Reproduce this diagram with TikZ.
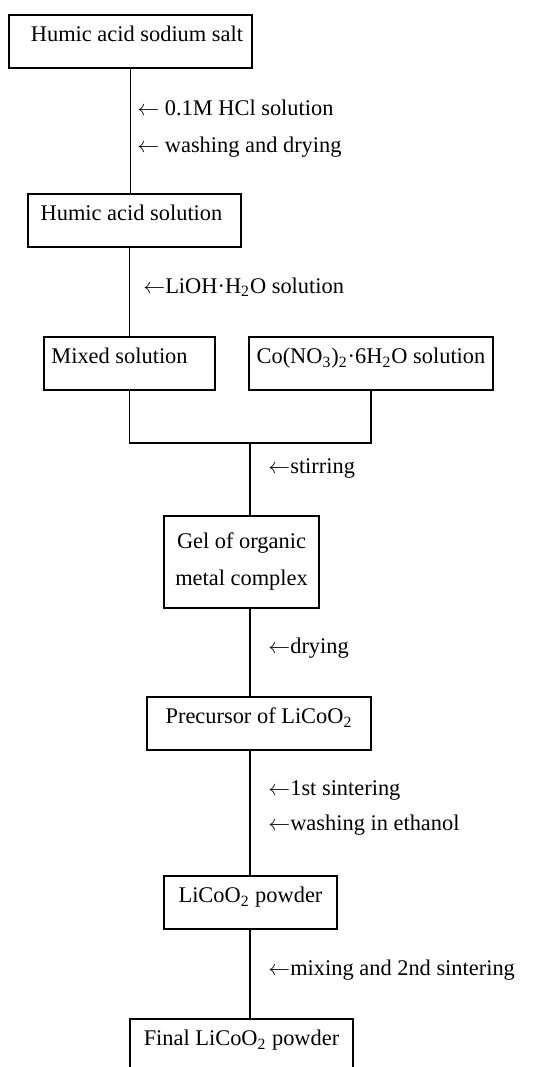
\documentclass[tikz,border=0pt]{standalone}
\usepackage{fontspec}
\setmainfont{Liberation Serif}
\tikzset{
  box/.style={draw, line width=0.8pt, inner xsep=0pt, inner ysep=0pt,
    text height=13.5pt, text depth=13pt, anchor=north},
  tallbox/.style={draw, line width=0.8pt, inner sep=0pt, align=center,
    minimum height=46pt, anchor=north, font=\fontsize{11.2}{18.5}\selectfont},
  note/.style={anchor=base west, inner sep=0pt},
  flow/.style={line width=0.8pt}
}
\begin{document}
\begin{tikzpicture}[x=0.5pt, y=-0.5pt, font=\fontsize{11.2}{13.4}\selectfont]
  \useasboundingbox (0,0) rectangle (546,1067);
  % boxes
  \node[box, minimum width=121.5pt] (salt) at (130.5,14) {\hspace*{6.5pt}Humic acid sodium salt};
  \node[box, minimum width=106.5pt] (acid) at (134.5,193) {Humic acid solution\hspace*{3pt}};
  \node[box, minimum width=85.5pt] (mixed) at (129.5,336) {Mixed solution\hspace*{10pt}};
  \node[box, minimum width=122pt] (cobalt) at (371,336) {Co(NO\textsubscript{3})\textsubscript{2}·6H\textsubscript{2}O solution};
  \node[tallbox, minimum width=77.5pt] (gel) at (241.5,515) {Gel of organic\\metal complex};
  \node[box, minimum width=112pt] (precursor) at (259,696) {Precursor of LiCoO\textsubscript{2}};
  \node[box, minimum width=86.5pt] (powder) at (250.5,875) {LiCoO\textsubscript{2} powder};
  \node[box, minimum width=111.5pt] (final) at (241.5,1018) {Final LiCoO\textsubscript{2} powder};
  \coordinate (join) at (250,443);
  % connectors
  \draw[flow] (salt.south) -- (salt.south |- acid.north);
  \draw[flow] (mixed.north) -- (mixed.north |- acid.south);
  \draw[flow] (mixed.south) |- (join) -| (cobalt.south);
  \draw[flow] (join) -- (join |- gel.north);
  \draw[flow] (join |- gel.south) -- (join |- precursor.north);
  \draw[flow] (join |- precursor.south) -- (join |- powder.north);
  \draw[flow] (join |- powder.south) -- (join |- final.north);
  % process notes
  \node[note] (hcl) at (137,115) {$\leftarrow$ 0.1M HCl solution};
  \node[note] (wash) at (137,152) {$\leftarrow$ washing and drying};
  \node[note] (lioh) at (143,293) {$\leftarrow$LiOH·H\textsubscript{2}O solution};
  \node[note] (stir) at (268,473) {$\leftarrow$stirring};
  \node[note] (dry) at (268,653) {$\leftarrow$drying};
  \node[note] (sinter) at (268,795) {$\leftarrow$1st sintering};
  \node[note] (ethanol) at (268,830) {$\leftarrow$washing in ethanol};
  \node[note] (mixsinter) at (268,975) {$\leftarrow$mixing and 2nd sintering};
\end{tikzpicture}
\end{document}
